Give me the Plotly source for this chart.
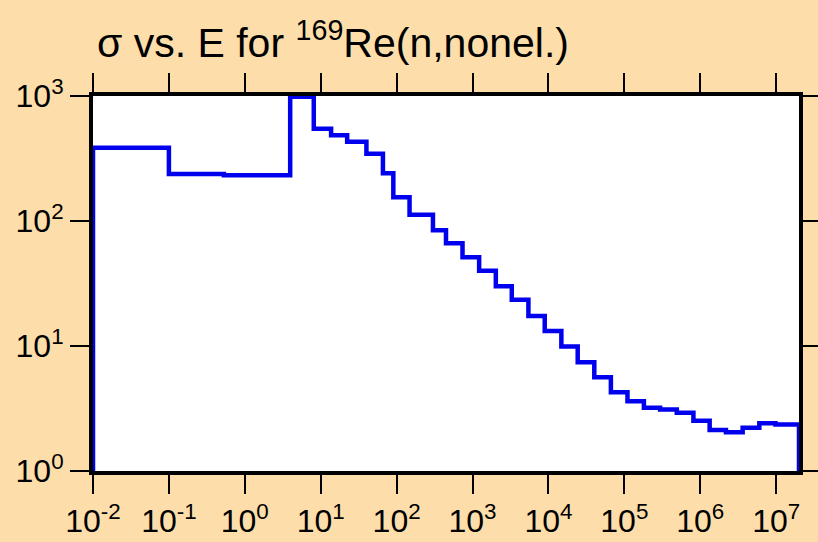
import plotly.graph_objects as go

# Group boundaries (eV) and the nonelastic cross section (b) in each group
energy_edges = [0.01, 0.1, 0.53, 3.96, 8.1, 13.7, 22.3, 40, 66, 90.5, 148, 301,
                447, 738, 1222, 2027, 3289, 5448, 8934, 14800, 24300, 40200,
                66500, 1.1e5, 1.81e5, 2.96e5, 4.91e5, 8.13e5, 1.33e6, 2.18e6,
                3.62e6, 6.0e6, 9.8e6, 2.0e7]
sigma_values = [385, 238, 232, 985, 547, 486, 430, 345, 241, 155, 112, 84.5,
                66.3, 51.2, 40, 30, 23.4, 17.4, 13.2, 9.9, 7.43, 5.63, 4.27,
                3.62, 3.21, 3.10, 2.93, 2.52, 2.13, 2.04, 2.22, 2.41, 2.35]
floor_value = 0.5

x_tick_vals = [1e-2, 1e-1, 1e0, 1e1, 1e2, 1e3, 1e4, 1e5, 1e6, 1e7]
x_tick_text = ["10<sup>-2</sup>", "10<sup>-1</sup>", "10<sup>0</sup>", "10<sup>1</sup>",
               "10<sup>2</sup>", "10<sup>3</sup>", "10<sup>4</sup>", "10<sup>5</sup>",
               "10<sup>6</sup>", "10<sup>7</sup>"]
y_tick_vals = [1, 10, 100, 1000]
y_tick_text = ["10<sup>0</sup>", "10<sup>1</sup>", "10<sup>2</sup>", "10<sup>3</sup>"]

# Histogram outline: rise from the floor at the first edge, drop at the last
xs = [energy_edges[0]] + energy_edges + [energy_edges[-1]]
ys = [floor_value] + sigma_values + [sigma_values[-1], floor_value]

fig = go.Figure(
    go.Scatter(
        x=xs, y=ys, mode="lines", line_shape="hv",
        line=dict(color="#0000EE", width=4.5),
        hoverinfo="skip", showlegend=False,
    )
)

font_family = "Liberation Sans, Arial, Helvetica, sans-serif"
axis_common = dict(
    type="log",
    automargin=False,
    showline=True, linewidth=4, linecolor="black",
    mirror="allticks",
    ticks="outside", ticklen=19, tickwidth=2, tickcolor="black",
    showgrid=False, zeroline=False,
    tickfont=dict(family=font_family, size=32, color="black"),
)

fig.update_layout(
    width=818, height=542,
    margin=dict(l=93, r=19, t=96, b=71, autoexpand=False),
    paper_bgcolor="#FDDEAB",
    plot_bgcolor="white",
    title=dict(
        text="σ vs. E for <sup>169</sup>Re(n,nonel.)",
        font=dict(family=font_family, size=41, color="black"),
        x=97 / 818, xanchor="left", xref="container",
        y=1 - 43 / 542, yanchor="middle", yref="container",
    ),
    xaxis=dict(range=[-2, 7.301], tickvals=x_tick_vals, ticktext=x_tick_text,
               **axis_common),
    yaxis=dict(range=[0, 3], tickvals=y_tick_vals, ticktext=y_tick_text,
               **axis_common),
)

fig.write_html("out.html")
